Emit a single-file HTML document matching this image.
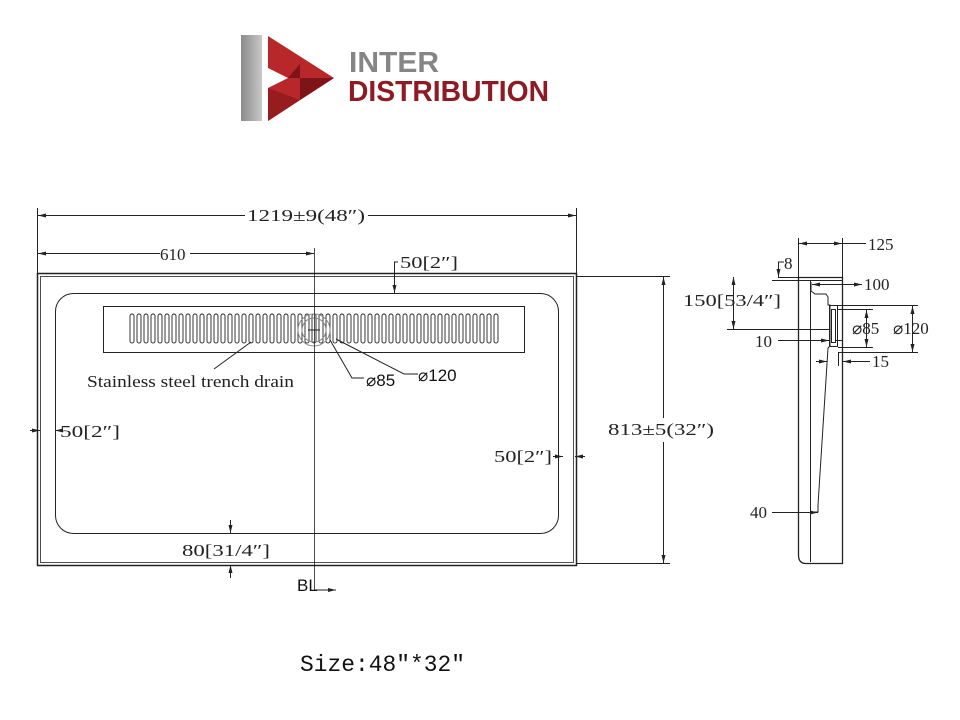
<!DOCTYPE html>
<html><head><meta charset="utf-8"><style>
body{margin:0;background:#fff;}
svg{display:block;}
.t{font-family:"Liberation Serif",serif;font-size:17px;fill:#222;}
.s{font-family:"Liberation Sans",sans-serif;font-size:17px;fill:#111;}
</style></head><body>
<svg width="960" height="720" viewBox="0 0 960 720" xmlns="http://www.w3.org/2000/svg">
<defs>
<pattern id="sl" x="129" y="0" width="7" height="720" patternUnits="userSpaceOnUse">
<rect x="1" y="314" width="4" height="29" rx="2" fill="none" stroke="#222" stroke-width="0.9"/>
</pattern>
<marker id="a" markerWidth="8" markerHeight="6" refX="8" refY="3" orient="auto-start-reverse"><path d="M0,1 L8,3 L0,5z" fill="#222"/></marker>
<linearGradient id="g" x1="0" x2="1"><stop offset="0" stop-color="#8a8a8a"/><stop offset="1" stop-color="#c9c9c9"/></linearGradient>
</defs>
<!-- logo -->
<rect x="241" y="35" width="21" height="86" fill="url(#g)"/>
<polygon points="268,36 334,78 268,121 268,88 288,78 268,68" fill="#b8272a"/>
<polygon points="288,78 334,78 300,100 300,64" fill="#7e1417"/>
<polygon points="268,88 300,100 268,121" fill="#971c20"/>
<text x="349" y="72" font-family="Liberation Sans,sans-serif" font-size="29" font-weight="bold" fill="#858585" textLength="90" lengthAdjust="spacingAndGlyphs">INTER</text>
<text x="348" y="101" font-family="Liberation Sans,sans-serif" font-size="29" font-weight="bold" fill="#8e1b23" textLength="201" lengthAdjust="spacingAndGlyphs">DISTRIBUTION</text>
<g stroke="#222" fill="none" stroke-width="1">
<!-- main body -->
<rect x="37.5" y="273.5" width="539" height="292" stroke-width="1.5"/>
<rect x="40.5" y="276.5" width="533" height="286" stroke-width="0.8"/>
<rect x="55.5" y="293.5" width="503" height="240" rx="18"/>
<rect x="103.5" y="306.5" width="421" height="46"/>
<rect x="129" y="300" width="371" height="60" fill="url(#sl)" stroke="none"/>
<circle cx="314" cy="330" r="16" stroke="#888"/>
<circle cx="314" cy="330" r="12" stroke="#888"/>
<line x1="314.5" y1="248" x2="314.5" y2="590" stroke-width="0.8"/>
<line x1="308" y1="330" x2="320" y2="330"/>
<!-- top dims -->
<line x1="37.5" y1="208" x2="37.5" y2="273"/><line x1="576.5" y1="208" x2="576.5" y2="273"/>
<line x1="38" y1="215.5" x2="245" y2="215.5" marker-start="url(#a)"/><line x1="368" y1="215.5" x2="576" y2="215.5" marker-end="url(#a)"/>
<line x1="38" y1="253.5" x2="160" y2="253.5" marker-start="url(#a)"/><line x1="190" y1="253.5" x2="314" y2="253.5" marker-end="url(#a)"/>
<polyline points="398,262 394.5,262 394.5,293" marker-end="url(#a)"/>
<!-- right 813 -->
<line x1="577" y1="276.5" x2="670" y2="276.5"/><line x1="577" y1="563.5" x2="670" y2="563.5"/>
<line x1="663.5" y1="277" x2="663.5" y2="418" marker-start="url(#a)"/><line x1="663.5" y1="442" x2="663.5" y2="563" marker-end="url(#a)"/>
<!-- leaders -->
<polyline points="251,342 214,369"/>
<polyline points="364,378 352,378 330,340"/>
<polyline points="418,374 404,374 336,339"/>
<!-- side 50s -->
<line x1="30" y1="430.5" x2="40" y2="430.5" marker-end="url(#a)"/><line x1="62" y1="430.5" x2="55" y2="430.5" marker-end="url(#a)"/>
<line x1="553" y1="456.5" x2="563" y2="456.5" marker-end="url(#a)"/><line x1="585" y1="456.5" x2="575" y2="456.5" marker-end="url(#a)"/>
<line x1="230.5" y1="520" x2="230.5" y2="533" marker-end="url(#a)"/><line x1="230.5" y1="578" x2="230.5" y2="565" marker-end="url(#a)"/>
<polyline points="314,590 336,590" marker-end="url(#a)"/>
<!-- side view -->
<path d="M798.5,277.5 H842.5 V563.5 H806 Q798.5,563.5 798.5,555 Z" stroke-width="1.3"/>
<line x1="810.5" y1="280" x2="810.5" y2="562"/>
<line x1="810.5" y1="280.5" x2="842" y2="280.5"/>
<path d="M811,282 V291 L815,294 H826 L828,297 V305 H830 V346 L828,348 L818,505 V512 H811"/>
<rect x="829.5" y="305.5" width="8" height="41"/>
<rect x="831.5" y="309.5" width="4" height="33"/>
<line x1="798.5" y1="238" x2="798.5" y2="277"/><line x1="842.5" y1="238" x2="842.5" y2="277"/>
<line x1="799" y1="243.5" x2="842" y2="243.5" marker-start="url(#a)" marker-end="url(#a)"/><line x1="842" y1="243.5" x2="866" y2="243.5"/>
<line x1="778" y1="277.5" x2="798" y2="277.5"/><line x1="772" y1="280.5" x2="810" y2="280.5"/>
<polyline points="784,262 778.5,262 778.5,277" marker-end="url(#a)"/>
<line x1="733.5" y1="277" x2="733.5" y2="329" marker-start="url(#a)" marker-end="url(#a)"/>
<line x1="727" y1="329.5" x2="830" y2="329.5"/>
<line x1="812" y1="284.5" x2="862" y2="284.5" marker-start="url(#a)" marker-end="url(#a)"/>
<line x1="838" y1="305.5" x2="918" y2="305.5"/><line x1="838" y1="352.5" x2="918" y2="352.5"/>
<line x1="912.5" y1="306" x2="912.5" y2="352" marker-start="url(#a)" marker-end="url(#a)"/>
<line x1="838" y1="309.5" x2="873" y2="309.5"/><line x1="838" y1="347.5" x2="873" y2="347.5"/>
<line x1="866.5" y1="310" x2="866.5" y2="347" marker-start="url(#a)" marker-end="url(#a)"/>
<line x1="778" y1="340.5" x2="829" y2="340.5" marker-end="url(#a)"/><line x1="843" y1="340.5" x2="836" y2="340.5"/>
<line x1="816" y1="361.5" x2="827" y2="361.5" marker-end="url(#a)"/><line x1="870" y1="361.5" x2="843" y2="361.5" marker-end="url(#a)"/>
<line x1="838.5" y1="352" x2="838.5" y2="366"/>
<line x1="772" y1="512.5" x2="818" y2="512.5" marker-end="url(#a)"/>
</g>
<!-- text -->
<rect x="246" y="204" width="121" height="22" fill="#fff"/>
<text class="t" x="247" y="221" textLength="118" lengthAdjust="spacingAndGlyphs">1219±9(48″)</text>
<text class="t" x="160" y="260">610</text>
<text class="t" x="400" y="268" textLength="58" lengthAdjust="spacingAndGlyphs">50[2″]</text>
<text class="t" x="87" y="387" font-size="14" textLength="207" lengthAdjust="spacingAndGlyphs">Stainless steel trench drain</text>
<text class="s" x="366" y="386" font-size="15">⌀85</text>
<text class="s" x="418" y="381" font-size="16">⌀120</text>
<rect x="607" y="419" width="108" height="22" fill="#fff"/>
<text class="t" x="608" y="435" textLength="106" lengthAdjust="spacingAndGlyphs">813±5(32″)</text>
<text class="t" x="60" y="437" textLength="60" lengthAdjust="spacingAndGlyphs">50[2″]</text>
<text class="t" x="494" y="462" textLength="58" lengthAdjust="spacingAndGlyphs">50[2″]</text>
<text class="t" x="182" y="556" textLength="88" lengthAdjust="spacingAndGlyphs">80[31/4″]</text>
<text class="s" x="297" y="591" font-size="17" fill="#333">BL</text>
<text x="300" y="671" font-family="Liberation Mono,monospace" font-size="23" fill="#111" textLength="165" lengthAdjust="spacingAndGlyphs">Size:48"*32"</text>
<text class="t" x="868" y="250">125</text>
<text class="t" x="784" y="269">8</text>
<text class="t" x="683" y="306" textLength="98" lengthAdjust="spacingAndGlyphs">150[53/4″]</text>
<text class="t" x="864" y="290">100</text>
<text class="t" x="852" y="334">⌀85</text>
<text class="t" x="893" y="334">⌀120</text>
<text class="t" x="755" y="347">10</text>
<text class="t" x="872" y="367">15</text>
<text class="t" x="750" y="518">40</text>
</svg>
</body></html>
